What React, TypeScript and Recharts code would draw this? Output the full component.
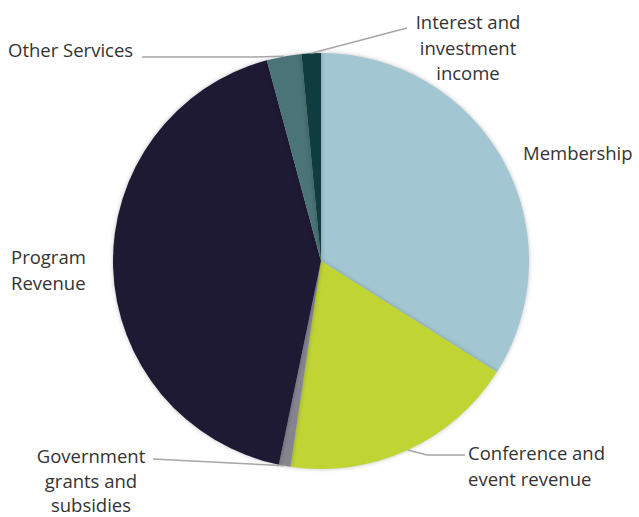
import { Cell, Pie, PieChart } from "recharts";

// revenue share by source, percent (read clockwise from 12 o'clock)
const sources = [
  "Membership",
  "Conference and event revenue",
  "Government grants and subsidies",
  "Program Revenue",
  "Other Services",
  "Interest and investment income",
];
const shares = [34.0, 18.4, 0.9, 42.6, 2.7, 1.5];
const colors = ["#a3c6d3", "#c0d534", "#85848f", "#1f1a33", "#4a7477", "#0e3c3f"];

const data = sources.map((name, i) => ({ name, value: shares[i] }));

// where each label sits; "elbow" is the bend of the leader line, "to" its end next to the text
type LabelLayout = {
  lines: string[];
  x: number;
  y: number;
  anchor: "start" | "middle" | "end";
  lineHeight?: number;
  elbow?: [number, number];
  to?: [number, number];
};

const labelLayout: Record<string, LabelLayout> = {
  Membership: { lines: ["Membership"], x: 523, y: 152, anchor: "start" },
  "Conference and event revenue": {
    lines: ["Conference and", "event revenue"],
    x: 468,
    y: 452,
    anchor: "start",
    elbow: [427, 455],
    to: [465, 455],
  },
  "Government grants and subsidies": {
    lines: ["Government", "grants and", "subsidies"],
    x: 91,
    y: 455,
    anchor: "middle",
    lineHeight: 24.5,
    to: [153, 459],
  },
  "Program Revenue": { lines: ["Program", "Revenue"], x: 11, y: 256, anchor: "start" },
  "Other Services": {
    lines: ["Other Services"],
    x: 8,
    y: 49,
    anchor: "start",
    elbow: [250, 57],
    to: [142, 57],
  },
  "Interest and investment income": {
    lines: ["Interest and", "investment", "income"],
    x: 468,
    y: 21,
    anchor: "middle",
    to: [407, 28],
  },
};

const RAD = Math.PI / 180;

function SliceLabel(props: any) {
  const { cx, cy, midAngle, outerRadius, name } = props;
  const layout = labelLayout[name];
  if (!layout) return null;
  const ex = cx + outerRadius * Math.cos(-midAngle * RAD);
  const ey = cy + outerRadius * Math.sin(-midAngle * RAD);
  const pts: [number, number][] = [[ex, ey]];
  if (layout.elbow) pts.push(layout.elbow);
  if (layout.to) pts.push(layout.to);
  const lh = layout.lineHeight ?? 25.5;

  return (
    <g>
      {layout.to && (
        <polyline
          points={pts.map((p) => p.join(",")).join(" ")}
          fill="none"
          stroke="#a6a6a6"
          strokeWidth={1.5}
        />
      )}
      <text
        x={layout.x}
        y={layout.y}
        textAnchor={layout.anchor}
        dominantBaseline="central"
        fill="#333333"
        fontSize={18.5}
        fontFamily="'Open Sans', 'Noto Sans', sans-serif"
      >
        {layout.lines.map((line, i) => (
          <tspan key={line} x={layout.x} dy={i === 0 ? 0 : lh}>
            {line}
          </tspan>
        ))}
      </text>
    </g>
  );
}

export default function App() {
  return (
    <div style={{ width: 639, height: 517, background: "#fff" }}>
      <style>{`body { margin: 0; }`}</style>
      <PieChart width={639} height={517} margin={{ top: 0, right: 0, bottom: 0, left: 0 }}>
        <Pie
          data={data}
          dataKey="value"
          nameKey="name"
          cx={321}
          cy={261}
          outerRadius={208}
          startAngle={90}
          endAngle={-270}
          stroke="none"
          label={SliceLabel}
          labelLine={false}
          isAnimationActive={false}
          style={{ filter: "drop-shadow(0px 0px 2px rgba(0,0,0,0.25))" }}
        >
          {data.map((d, i) => (
            <Cell key={d.name} fill={colors[i]} />
          ))}
        </Pie>
      </PieChart>
    </div>
  );
}
